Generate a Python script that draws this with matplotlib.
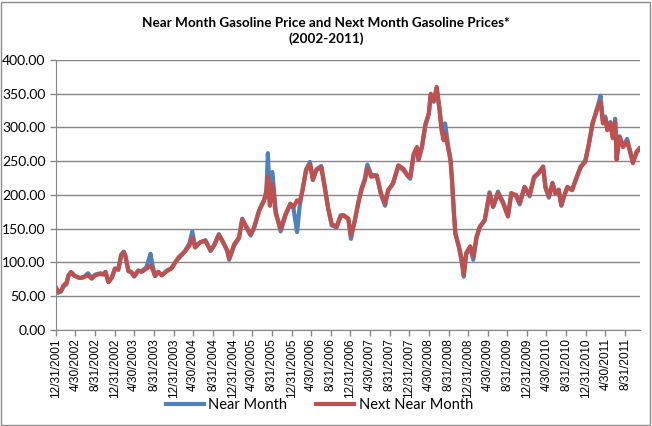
import matplotlib
matplotlib.use("Agg")
import matplotlib.pyplot as plt
import pandas as pd
from matplotlib.patches import Rectangle

# readings (cents per gallon)
dates = [
    "2001-12-31", "2002-01-12", "2002-01-31", "2002-02-15", "2002-03-06", "2002-03-18",
    "2002-04-03", "2002-04-27", "2002-05-28", "2002-06-18", "2002-07-18", "2002-08-09",
    "2002-08-31", "2002-09-30", "2002-10-21", "2002-11-03", "2002-11-21", "2002-12-12",
    "2002-12-31", "2003-01-22", "2003-02-09", "2003-02-24", "2003-03-06", "2003-03-25",
    "2003-04-12", "2003-04-30", "2003-05-25", "2003-06-15", "2003-07-15", "2003-08-09",
    "2003-08-18", "2003-09-06", "2003-09-27", "2003-10-18", "2003-11-18", "2003-12-18",
    "2004-01-09", "2004-01-31", "2004-02-20", "2004-03-12", "2004-04-06", "2004-04-24",
    "2004-05-12", "2004-06-12", "2004-07-15", "2004-08-15", "2004-09-06", "2004-10-06",
    "2004-10-28", "2004-11-27", "2004-12-09", "2005-01-09", "2005-02-08", "2005-02-28",
    "2005-03-21", "2005-04-21", "2005-05-12", "2005-06-12", "2005-07-12", "2005-07-27",
    "2005-08-06", "2005-08-18", "2005-09-03", "2005-09-24", "2005-10-24", "2005-11-24",
    "2005-12-24", "2006-01-12", "2006-02-03", "2006-02-20", "2006-03-09", "2006-03-31",
    "2006-04-24", "2006-05-12", "2006-06-03", "2006-07-03", "2006-07-24", "2006-08-15",
    "2006-09-06", "2006-10-06", "2006-10-31", "2006-11-18", "2006-12-18", "2007-01-03",
    "2007-01-27", "2007-02-17", "2007-03-09", "2007-03-31", "2007-04-15", "2007-05-09",
    "2007-06-12", "2007-07-09", "2007-08-03", "2007-08-21", "2007-09-21", "2007-10-24",
    "2007-11-24", "2007-12-21", "2008-01-06", "2008-01-27", "2008-02-17", "2008-02-26",
    "2008-03-18", "2008-04-09", "2008-04-30", "2008-05-12", "2008-05-31", "2008-06-18",
    "2008-07-06", "2008-07-18", "2008-07-31", "2008-08-09", "2008-08-31", "2008-09-12",
    "2008-09-21", "2008-10-03", "2008-10-12", "2008-11-03", "2008-11-21", "2008-12-03",
    "2008-12-18", "2009-01-12", "2009-01-31", "2009-02-20", "2009-03-12", "2009-04-12",
    "2009-05-12", "2009-06-03", "2009-07-03", "2009-08-03", "2009-09-03", "2009-09-24",
    "2009-10-24", "2009-11-15", "2009-12-15", "2010-01-15", "2010-02-12", "2010-03-12",
    "2010-04-09", "2010-04-24", "2010-05-15", "2010-06-06", "2010-06-24", "2010-07-15",
    "2010-07-31", "2010-08-15", "2010-09-06", "2010-10-06", "2010-10-27", "2010-11-27",
    "2010-12-27", "2011-01-18", "2011-02-09", "2011-02-28", "2011-03-18", "2011-03-31",
    "2011-04-15", "2011-04-30", "2011-05-12", "2011-05-31", "2011-06-15", "2011-06-30",
    "2011-07-09", "2011-07-27", "2011-08-18", "2011-09-12", "2011-09-30", "2011-10-18",
    "2011-11-09", "2011-11-27",
]

near_month = [
    60, 55, 57, 64, 68, 80, 85, 80, 77, 78, 84, 77,
    82, 84, 83, 86, 71, 77, 90, 92, 112, 116, 110, 87,
    85, 79, 88, 87, 93, 113, 100, 80, 86, 81, 88, 91,
    100, 106, 111, 118, 128, 146, 124, 130, 133, 117, 125, 142,
    132, 117, 104, 125, 136, 165, 153, 140, 150, 177, 192, 200,
    262, 190, 234, 176, 146, 170, 187, 180, 145, 185, 208, 238,
    249, 224, 238, 243, 214, 180, 155, 152, 170, 170, 164, 135,
    162, 188, 209, 225, 245, 230, 229, 200, 184, 206, 217, 242,
    237, 228, 224, 258, 270, 252, 270, 303, 320, 348, 338, 358,
    327, 300, 285, 306, 268, 252, 222, 172, 142, 122, 100, 79,
    112, 122, 104, 136, 152, 162, 204, 182, 205, 190, 170, 203,
    198, 186, 212, 198, 225, 232, 242, 210, 196, 218, 202, 208,
    184, 196, 211, 208, 221, 240, 252, 275, 304, 320, 335, 347,
    310, 316, 298, 308, 286, 313, 255, 287, 272, 283, 266, 249,
    262, 268,
]

next_near_month = [
    63, 57, 58, 66, 70, 81, 86, 80, 77, 78, 81, 76,
    81, 83, 82, 86, 71, 78, 91, 89, 111, 115, 110, 88,
    86, 80, 88, 86, 91, 95, 92, 80, 86, 81, 87, 92,
    100, 108, 112, 117, 125, 137, 122, 130, 132, 118, 125, 141,
    132, 118, 106, 127, 137, 164, 155, 142, 152, 176, 191, 206,
    228, 184, 216, 172, 150, 172, 187, 182, 192, 190, 207, 236,
    246, 222, 237, 241, 212, 180, 157, 153, 168, 170, 165, 140,
    162, 187, 207, 222, 240, 227, 229, 202, 187, 207, 217, 244,
    239, 229, 227, 261, 271, 252, 271, 305, 320, 350, 340, 360,
    325, 296, 281, 291, 266, 251, 222, 173, 143, 124, 104, 82,
    114, 124, 109, 138, 153, 163, 202, 183, 202, 188, 168, 202,
    200, 188, 212, 200, 227, 233, 242, 212, 198, 217, 203, 207,
    185, 197, 212, 207, 222, 242, 249, 276, 306, 320, 333, 338,
    306, 313, 296, 306, 284, 308, 252, 286, 271, 279, 264, 247,
    264, 269,
]

tick_labels = [
    "12/31/2001", "4/30/2002", "8/31/2002", "12/31/2002", "4/30/2003", "8/31/2003",
    "12/31/2003", "4/30/2004", "8/31/2004", "12/31/2004", "4/30/2005", "8/31/2005",
    "12/31/2005", "4/30/2006", "8/31/2006", "12/31/2006", "4/30/2007", "8/31/2007",
    "12/31/2007", "4/30/2008", "8/31/2008", "12/31/2008", "4/30/2009", "8/31/2009",
    "12/31/2009", "4/30/2010", "8/31/2010", "12/31/2010", "4/30/2011", "8/31/2011",
]
y_ticks = [0, 50, 100, 150, 200, 250, 300, 350, 400]

x = pd.to_datetime(dates)
ticks = pd.to_datetime(tick_labels, format="%m/%d/%Y")

blue = "#4F81BD"
red = "#C0504D"
grid_grey = "#868686"

fig = plt.figure(figsize=(6.52, 4.26), dpi=100)
ax = fig.add_axes([0.0859, 0.2254, 0.8957, 0.6338])

ax.plot(x, near_month, color=blue, lw=3, label="Near Month", solid_joinstyle="round")
ax.plot(x, next_near_month, color=red, lw=3, label="Next Near Month", solid_joinstyle="round")

ax.set_ylim(0, 400)
ax.set_yticks(y_ticks)
ax.set_yticklabels([f"{v:.2f}" for v in y_ticks], fontsize=10, family="Lato")
ax.set_xlim(pd.Timestamp("2001-12-31"), pd.Timestamp("2011-12-01"))
ax.set_xticks(ticks)
ax.set_xticklabels(tick_labels, rotation=90, fontsize=8.6, family="Liberation Sans")

ax.yaxis.grid(True, color=grid_grey, lw=1)
ax.set_axisbelow(True)
for side in ["top", "right"]:
    ax.spines[side].set_visible(False)
ax.spines["left"].set_color(grid_grey)
ax.spines["bottom"].set_color(grid_grey)
ax.tick_params(axis="both", color=grid_grey, length=4, width=1, direction="out")
ax.tick_params(axis="x", pad=2)

fig.text(0.5, 0.945, "Near Month Gasoline Price and Next Month Gasoline Prices*",
         ha="center", va="center", fontsize=9.7, fontweight="bold", family="Lato")
fig.text(0.5, 0.91, "(2002-2011)", ha="center", va="center",
         fontsize=9.7, fontweight="bold", family="Lato")

leg = fig.legend(loc="center", bbox_to_anchor=(0.49, 0.05), ncol=2, frameon=False,
                 prop={"family": "Lato", "size": 10.5}, handlelength=2.6,
                 handletextpad=0.3, columnspacing=2.0)

fig.patches.append(Rectangle((0.002, 0.003), 0.995, 0.993, transform=fig.transFigure,
                             fill=False, edgecolor="#8C8C8C", lw=1))

fig.savefig("out.png", dpi=100)
